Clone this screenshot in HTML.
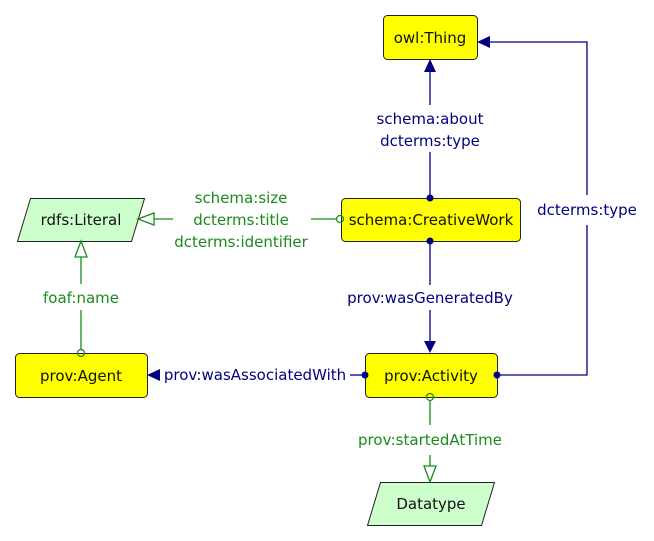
<!DOCTYPE html>
<html><head><meta charset="utf-8"><style>
html,body{margin:0;padding:0;background:#fff;width:654px;height:541px;overflow:hidden}
text{font-family:"DejaVu Sans","Liberation Sans",sans-serif;font-size:15px}
</style></head><body>
<svg width="654" height="541" xmlns="http://www.w3.org/2000/svg">
<g fill="#ffff00" stroke="#222" stroke-width="1">
<rect x="383.5" y="15.5" width="94" height="44" rx="4"/>
<rect x="341.5" y="198.5" width="179" height="43" rx="4"/>
<rect x="365.5" y="353.5" width="132" height="44" rx="4"/>
<rect x="15.5" y="353.5" width="132" height="44" rx="4"/>
</g>
<g fill="#ccffcc" stroke="#222" stroke-width="1">
<polygon points="30.5,198.5 144.5,198.5 131.5,241.5 17.5,241.5"/>
<polygon points="380.5,482.5 494.5,482.5 481.5,525.5 367.5,525.5"/>
</g>
<g fill="#111" text-anchor="middle">
<text x="430" y="43">owl:Thing</text>
<text x="431" y="225">schema:CreativeWork</text>
<text x="431" y="381">prov:Activity</text>
<text x="81" y="381">prov:Agent</text>
<text x="81" y="225">rdfs:Literal</text>
<text x="431" y="509">Datatype</text>
</g>
<g stroke="#000080" stroke-width="1.3" fill="none">
<line x1="430" y1="72" x2="430" y2="105"/>
<line x1="430" y1="152" x2="430" y2="196"/>
<line x1="430" y1="243" x2="430" y2="285"/>
<line x1="430" y1="310" x2="430" y2="342"/>
<polyline points="497,375 587,375 587,225"/>
<polyline points="587,195 587,42 490,42"/>
<line x1="350" y1="375" x2="363" y2="375"/>
</g>
<g fill="#000080">
<polygon points="430,59 424,72 436,72"/>
<polygon points="430,353 424,341 436,341"/>
<polygon points="477,42 490,36 490,48"/>
<polygon points="147,375 160,369 160,381"/>
<circle cx="430" cy="198" r="3.5"/>
<circle cx="430" cy="241" r="3.5"/>
<circle cx="497" cy="375" r="3.5"/>
<circle cx="365" cy="375" r="3.5"/>
</g>
<g fill="#000080" text-anchor="middle">
<text x="430" y="124">schema:about</text>
<text x="430" y="146">dcterms:type</text>
<text x="430" y="303">prov:wasGeneratedBy</text>
<text x="587" y="215">dcterms:type</text>
<text x="255" y="380">prov:wasAssociatedWith</text>
</g>
<g stroke="#1a8a1a" stroke-width="1.3" fill="none">
<line x1="311" y1="219" x2="337" y2="219"/>
<circle cx="340" cy="219" r="3.5"/>
<line x1="154" y1="219" x2="173" y2="219"/>
<polygon points="138,219 154,213 154,225"/>
<line x1="81" y1="310" x2="81" y2="350"/>
<circle cx="81" cy="353" r="3.5"/>
<line x1="81" y1="257" x2="81" y2="284"/>
<polygon points="81,241 75,257 87,257"/>
<line x1="430" y1="401" x2="430" y2="425"/>
<circle cx="430" cy="397" r="3.5"/>
<line x1="430" y1="455" x2="430" y2="466"/>
<polygon points="430,482 424,466 436,466"/>
</g>
<g fill="#1a8a1a" text-anchor="middle">
<text x="241" y="203">schema:size</text>
<text x="241" y="225">dcterms:title</text>
<text x="241" y="247">dcterms:identifier</text>
<text x="81" y="303">foaf:name</text>
<text x="430" y="445">prov:startedAtTime</text>
</g>
</svg>
</body></html>
